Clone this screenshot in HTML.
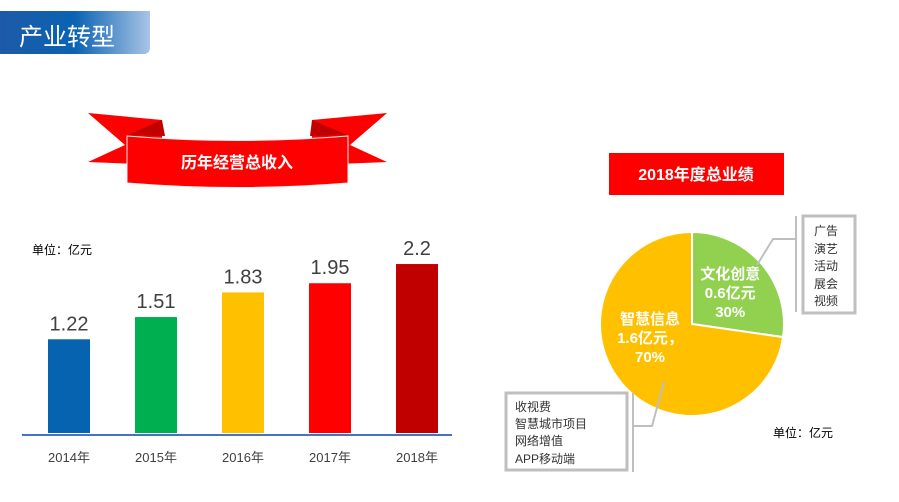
<!DOCTYPE html>
<html><head><meta charset="utf-8">
<style>
body{margin:0;width:899px;height:502px;background:#fff;position:relative;overflow:hidden;font-family:"Liberation Sans","Noto Sans CJK SC",sans-serif;}
.abs{position:absolute;}
</style></head>
<body>
<div class="abs" style="left:0;top:11px;width:150px;height:43px;background:linear-gradient(90deg,#1d5aa8 0%,#0a63b3 50%,#a9c4e6 100%);border-radius:0 0 6px 0;">
<span style="position:absolute;left:19px;top:6px;color:#fff;font-size:24px;">产业转型</span></div>
<svg class="abs" style="left:0;top:0" width="899" height="502">
<g>
<polygon points="88,113 162,120 162,165 88,162 125,145" fill="#ff0000"/>
<polygon points="387,113 312,120 312,165 387,162 350,145" fill="#ff0000"/>
<polygon points="128,135 162,120 165,136" fill="#c00000"/>
<polygon points="347,135 312,120 310,136" fill="#c00000"/>
<path d="M127,136 Q237,145 348,136 L348,183 Q237,192 127,183 Z" fill="#ff0000" stroke="#eee" stroke-width="1"/>
<text x="237" y="168" text-anchor="middle" fill="#fff" font-size="16" font-weight="bold" font-family="Liberation Sans,Noto Sans CJK SC,sans-serif">历年经营总收入</text>
</g>
<text x="32" y="254" font-size="12" fill="#000" font-family="Liberation Sans,Noto Sans CJK SC,sans-serif">单位：亿元</text>
<g id="bars"></g>
<line x1="22" y1="435" x2="452" y2="435" stroke="#4472c4" stroke-width="2"/>
<rect x="609" y="153" width="175" height="42" fill="#ff0000"/>
<text x="696" y="180" text-anchor="middle" fill="#fff" font-size="16" font-weight="bold" font-family="Liberation Sans,Noto Sans CJK SC,sans-serif">2018年度总业绩</text>
<g id="pie"></g>
<polyline points="757,265 773,239 796,239" fill="none" stroke="#bfbfbf" stroke-width="2"/>
<line x1="796" y1="216" x2="796" y2="312" stroke="#bfbfbf" stroke-width="2"/>
<rect x="803" y="216" width="52" height="97" fill="#fff" stroke="#bfbfbf" stroke-width="3"/>
<g font-size="12" fill="#333" font-family="Liberation Sans,Noto Sans CJK SC,sans-serif">
<text x="814" y="235">广告</text><text x="814" y="253">演艺</text><text x="814" y="270">活动</text><text x="814" y="288">展会</text><text x="814" y="305">视频</text></g>
<polyline points="664,382 652,426 632,426" fill="none" stroke="#bfbfbf" stroke-width="2"/>
<line x1="633" y1="393" x2="633" y2="472" stroke="#bfbfbf" stroke-width="2"/>
<rect x="506" y="393" width="121" height="77" fill="#fff" stroke="#bfbfbf" stroke-width="3"/>
<g font-size="12" fill="#333" font-family="Liberation Sans,Noto Sans CJK SC,sans-serif">
<text x="515" y="411">收视费</text><text x="515" y="428">智慧城市项目</text><text x="515" y="445">网络增值</text><text x="515" y="463">APP移动端</text></g>
<text x="773" y="437" font-size="12" fill="#000" font-family="Liberation Sans,Noto Sans CJK SC,sans-serif">单位：亿元</text>
</svg>
<script>
const years=["2014年","2015年","2016年","2017年","2018年"];
const revenue=[1.22,1.51,1.83,1.95,2.2];
const revenueLabels=["1.22","1.51","1.83","1.95","2.2"];
const barColors=["#0563b0","#00b050","#ffc000","#ff0000","#c00000"];
const pieNames=["文化创意","智慧信息"];
const pieValues=[0.6,1.6];
const piePercents=[30,70];
const pieColors=["#92d050","#ffc000"];
const NS="http://www.w3.org/2000/svg";
const base=433,scale=76.8,x0=69,step=87,bw=42;
const xPos=i=>x0+i*step, yPos=v=>base-v*scale;
const bars=document.getElementById("bars");
function mk(tag,attrs,parent){const e=document.createElementNS(NS,tag);for(const k in attrs)e.setAttribute(k,attrs[k]);parent.appendChild(e);return e;}
revenue.forEach((v,i)=>{
 const r=mk("rect",{x:xPos(i)-bw/2,y:yPos(v),width:bw,height:base-yPos(v),fill:barColors[i]},bars);
 
 
 const t=mk("text",{x:xPos(i),y:yPos(v)-9,"text-anchor":"middle","font-size":"20",fill:"#404040","font-family":"Liberation Sans,sans-serif"},bars);
 t.textContent=revenueLabels[i];
 
 
 const y=mk("text",{x:xPos(i),y:462,"text-anchor":"middle","font-size":"13",fill:"#404040","font-family":"Liberation Sans,Noto Sans CJK SC,sans-serif"},bars);
 y.textContent=years[i];
 
 
});
const pie=document.getElementById("pie");
const cx=692,cy=324,R=92;
const total=pieValues.reduce((a,b)=>a+b,0);
let a0=0;
const pt=(a,r)=>[cx+r*Math.sin(a),cy-r*Math.cos(a)];
pieValues.forEach((v,i)=>{
 const a1=a0+v/total*2*Math.PI;
 const p0=pt(a0,R),p1=pt(a1,R);
 const large=(a1-a0)>Math.PI?1:0;
 const s=mk("path",{d:`M${cx},${cy} L${p0[0]},${p0[1]} A${R},${R} 0 ${large} 1 ${p1[0]},${p1[1]} Z`,fill:pieColors[i],stroke:"#fff","stroke-width":"2"},pie);
 
 
 const mid=(a0+a1)/2;
 const lp=i==0?pt(mid,R*0.55):[cx-42,cy];
 const lines=[pieNames[i],pieValues[i]+"亿元"+(i==1?"，":""),piePercents[i]+"%"];
 const t=mk("text",{x:lp[0],y:lp[1]-(i==0?12:0),"text-anchor":"middle","font-size":"15","font-weight":"bold",fill:"#fff","font-family":"Liberation Sans,Noto Sans CJK SC,sans-serif"},pie);
 
 
 lines.forEach((l,j)=>{const ts=mk("tspan",{x:lp[0],dy:j?19:0},t);ts.textContent=l;});
 a0=a1;
});
</script>
</body></html>
